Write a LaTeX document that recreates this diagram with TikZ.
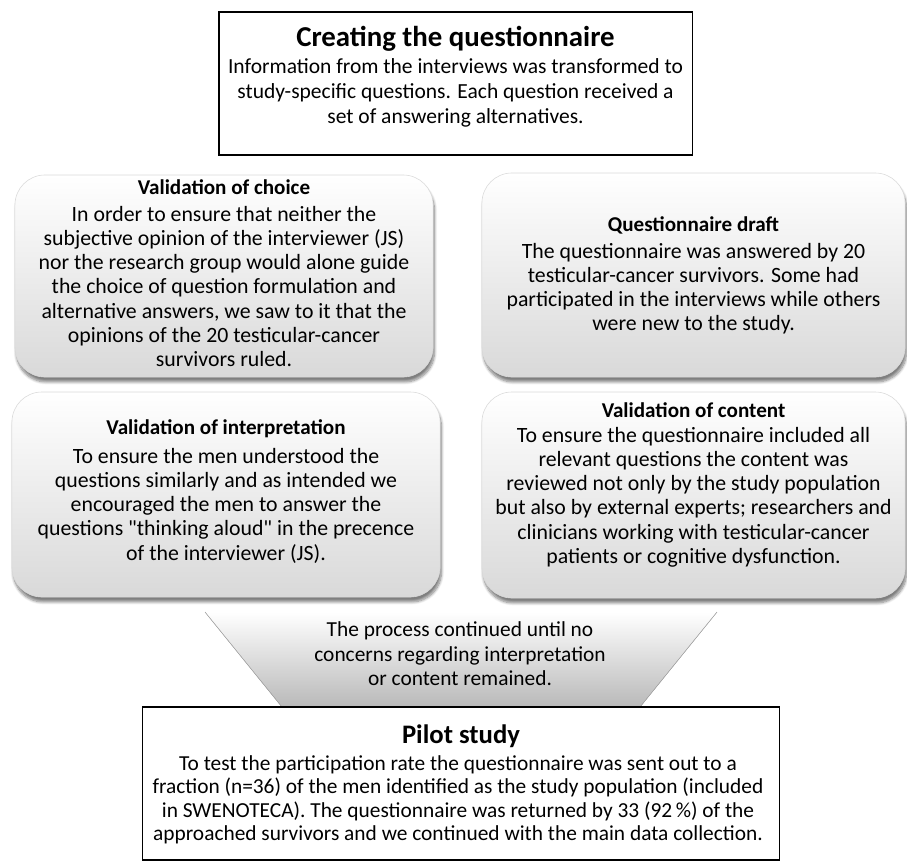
\documentclass[tikz,border=0pt]{standalone}
\usepackage{fontspec}
\setmainfont{Carlito}
\usetikzlibrary{positioning, calc, shadows.blur}

\begin{document}
\begin{tikzpicture}[
  x=0.025cm, y=-0.025cm,
  plainbox/.style = {draw, line width=0.8pt, fill=white, inner sep=0pt},
  softbox/.style  = {draw=gray!30, rounded corners=0.75cm, top color=white, bottom color=gray!30,
                     blur shadow={shadow xshift=1pt, shadow yshift=-3.5pt, shadow blur steps=8, shadow opacity=50},
                     inner sep=0pt},
  bodytxt/.style  = {anchor=north, align=center, inner sep=0pt, font=\fontsize{15.5}{17.2}\selectfont},
  hd/.style       = {inner sep=0pt, font=\fontsize{15}{17}\selectfont\bfseries}
]
\useasboundingbox (0,0) rectangle (907,864);

%--------------------------------------------------
% funnel (behind everything)
%--------------------------------------------------
\coordinate (f_nw) at (205,612);
\coordinate (f_ne) at (717,612);
\coordinate (f_se) at (640,707);
\coordinate (f_sw) at (282,707);
\fill[top color=white, bottom color=gray!55] (f_nw) -- (f_ne) -- (f_se) -- (f_sw) -- cycle;
\draw[gray!70] (f_nw) -- (f_sw);
\draw[gray!70] (f_ne) -- (f_se);
\node[bodytxt, font=\fontsize{15.2}{17.7}\selectfont] (loop) at (460,621)
  {The process continued until no\\concerns regarding interpretation\\or content remained.};

%--------------------------------------------------
% top box
%--------------------------------------------------
\node[plainbox, minimum width=11.825cm, minimum height=3.575cm] (create) at (455.5,83.5) {};
\node[hd, font=\fontsize{20.5}{23}\selectfont\bfseries] (t_create) at (455.5,39) {Creating the questionnaire};
\node[bodytxt, font=\fontsize{15.3}{18}\selectfont] (b_create) at (455.5,58)
  {Information from the interviews was transformed to\\
   study-specific questions. Each question received a\\
   set of answering alternatives.};

%--------------------------------------------------
% validation steps (rounded boxes)
%--------------------------------------------------
\node[softbox, minimum width=10.45cm, minimum height=5.05cm] (choice) at (224,276) {};
\node[hd] (t_choice) at (224,187) {Validation of choice};
\node[bodytxt] (b_choice) at (224,206)
  {In order to ensure that neither the\\
   subjective opinion of the interviewer (JS)\\
   nor the research group would alone guide\\
   the choice of question formulation and\\
   alternative answers, we saw to it that the\\
   opinions of the 20 testicular-cancer\\
   survivors ruled.};

\node[softbox, minimum width=10.575cm, minimum height=5.1cm] (draft) at (693.5,275) {};
\node[hd] (t_draft) at (693.5,225) {Questionnaire draft};
\node[bodytxt] (b_draft) at (693.5,243)
  {The questionnaire was answered by 20\\
   testicular-cancer survivors. Some had\\
   participated in the interviews while others\\
   were new to the study.};

\node[softbox, minimum width=10.7cm, minimum height=5.125cm] (interp) at (226,494.5) {};
\node[hd] (t_interp) at (226,429) {Validation of interpretation};
\node[bodytxt] (b_interp) at (226,448)
  {To ensure the men understood the\\
   questions similarly and as intended we\\
   encouraged the men to answer the\\
   questions \textquotedbl thinking aloud\textquotedbl{} in the precence\\
   of the interviewer (JS).};

\node[softbox, minimum width=10.575cm, minimum height=5.15cm] (content) at (693.5,495) {};
\node[hd] (t_content) at (693.5,410) {Validation of content};
\node[bodytxt] (b_content) at (693.5,427)
  {To ensure the questionnaire included all\\
   relevant questions the content was\\
   reviewed not only by the study population\\
   but also by external experts; researchers and\\
   clinicians working with testicular-cancer\\
   patients or cognitive dysfunction.};

%--------------------------------------------------
% pilot study
%--------------------------------------------------
\node[plainbox, minimum width=15.9cm, minimum height=3.825cm] (pilot) at (461,783.5) {};
\node[hd, font=\fontsize{19}{22}\selectfont\bfseries] (t_pilot) at (461,736) {Pilot study};
\node[bodytxt, font=\fontsize{15.2}{16.7}\selectfont] (b_pilot) at (458,755)
  {To test the participation rate the questionnaire was sent out to a\\
   fraction (n=36) of the men identified as the study population (included\\
   in SWENOTECA). The questionnaire was returned by 33 (92\,\%) of the\\
   approached survivors and we continued with the main data collection.};

\end{tikzpicture}
\end{document}
